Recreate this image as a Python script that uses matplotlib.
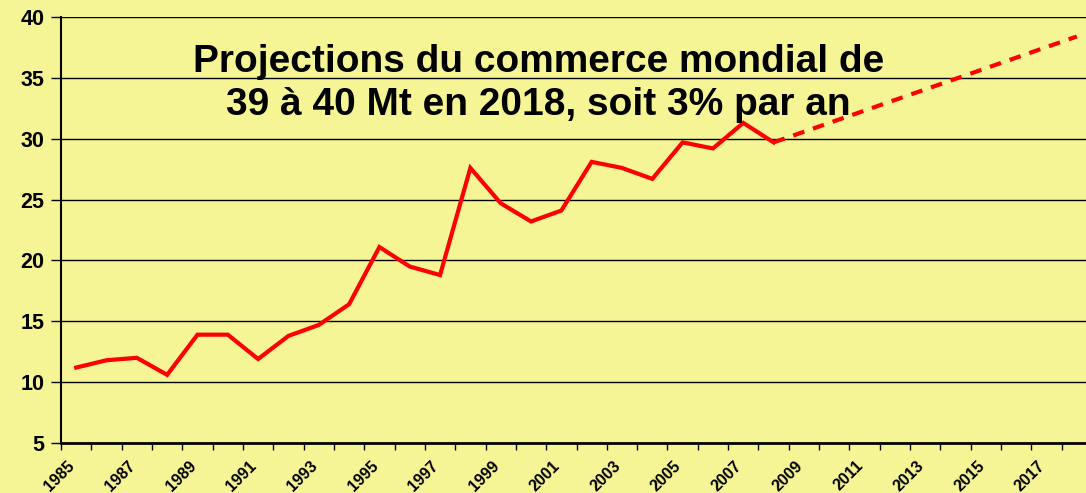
import matplotlib.pyplot as plt
import numpy as np
from matplotlib.transforms import ScaledTranslation

plt.rcParams['font.family'] = ['Liberation Sans', 'DejaVu Sans']

# world trade, Mt
years = list(range(1985, 2009))
values = [11.2, 11.8, 12.0, 10.6, 13.9, 13.9, 11.9, 13.8, 14.7, 16.4,
          21.1, 19.5, 18.8, 27.6, 24.7, 23.2, 24.1, 28.1, 27.6, 26.7,
          29.7, 29.2, 31.3, 29.7]

# projection to 2018
proj_years = [2008, 2018]
proj_values = [29.7, 38.4]

label_years = list(range(1985, 2018, 2))
y_ticks = [5, 10, 15, 20, 25, 30, 35, 40]

title = "Projections du commerce mondial de\n39 à 40 Mt en 2018, soit 3% par an"

bg = '#F6F596'

fig = plt.figure(figsize=(10.86, 4.93), dpi=100, facecolor=bg)
ax = fig.add_axes([0.0562, 0.1014, 0.9493, 0.8641], facecolor=bg)

ax.plot(years, values, color='#FF0000', lw=3.0, solid_joinstyle='miter', zorder=3)
ax.plot(proj_years, proj_values, color='#FF0000', lw=3.0, dashes=(2.8, 2.2), zorder=3)

ax.set_xlim(1984.5, 2018.5)
ax.set_ylim(5, 40)

ax.set_yticks(y_ticks)
ax.set_yticklabels([str(v) for v in y_ticks], fontsize=15.5, fontweight='bold')
ax.tick_params(axis='y', length=7, width=1, pad=5, direction='out')
for v in y_ticks[1:]:
    ax.axhline(v, color='black', lw=1.0, zorder=1)

# category boundaries get the tick marks, labels sit on every other year
ax.set_xticks(np.arange(1984.5, 2019, 1), minor=True)
ax.set_xticks(label_years)
ax.set_xticklabels([str(y) for y in label_years], fontsize=11.5, fontweight='bold',
                   rotation=45, ha='right', va='top', rotation_mode='anchor')
ax.tick_params(axis='x', which='major', length=0, pad=11)
ax.tick_params(axis='x', which='minor', length=5, width=1, direction='out')
shift = ScaledTranslation(-9 / 100, 0, fig.dpi_scale_trans)
for lab in ax.get_xticklabels():
    lab.set_transform(lab.get_transform() + shift)

for s in ['top', 'right']:
    ax.spines[s].set_visible(False)
ax.spines['left'].set_linewidth(1.5)
ax.spines['bottom'].set_linewidth(2)

ax.text(0.463, 0.845, title, transform=ax.transAxes, ha='center', va='center',
        fontsize=28, fontweight='bold', linespacing=1.25, zorder=4)

fig.savefig('out.png', dpi=100, facecolor=bg)
